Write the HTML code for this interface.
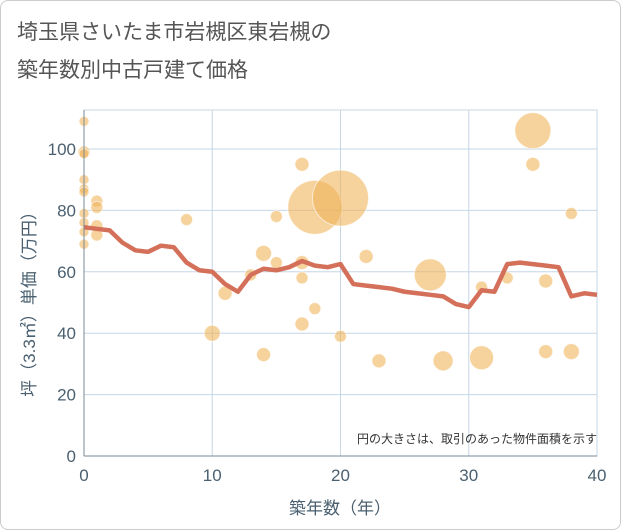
<!DOCTYPE html>
<html><head><meta charset="utf-8"><style>
body{margin:0;background:#fff}
.wrap{width:619px;height:528px;border:1px solid #ccc;border-radius:8px;position:relative;overflow:hidden;font-family:"Liberation Sans","Noto Sans CJK JP",sans-serif}
</style></head><body>
<div class="wrap">
<svg width="621" height="530" id="chart" style="position:absolute;left:-1px;top:-1px">
<text x="17" y="39" font-size="21" fill="#555" font-family="Liberation Sans,Noto Sans CJK JP,sans-serif">埼玉県さいたま市岩槻区東岩槻の</text>
<text x="17" y="77" font-size="21" fill="#555" font-family="Liberation Sans,Noto Sans CJK JP,sans-serif">築年数別中古戸建て価格</text>
<g id="grid"></g><g id="bubbles"></g><g id="line"></g><g id="axes"></g>
<text x="597" y="443" font-size="12" fill="#333" text-anchor="end" font-family="Liberation Sans,Noto Sans CJK JP,sans-serif">円の大きさは、取引のあった物件面積を示す</text>
<text x="340" y="514" font-size="17" fill="#4a6070" text-anchor="middle" font-family="Liberation Sans,Noto Sans CJK JP,sans-serif">築年数（年）</text>
<text transform="translate(35,300) rotate(-90)" font-size="17" fill="#4a6070" text-anchor="middle" font-family="Liberation Sans,Noto Sans CJK JP,sans-serif">坪（3.3㎡）単価（万円）</text>
</svg></div>
<script>
const xTicks=[0,10,20,30,40];
const yTicks=[0,20,40,60,80,100];
const lineYears=[0,1,2,3,4,5,6,7,8,9,10,11,12,13,14,15,16,17,18,19,20,21,22,23,24,25,26,27,28,29,30,31,32,33,34,35,36,37,38,39,40];
const lineValues=[74.5,74,73.5,69.5,67,66.5,68.5,68,63,60.5,60,56,53.5,59,61,60.5,61.5,63.5,62,61.5,62.5,56,55.5,55,54.5,53.5,53,52.5,52,49.5,48.5,54,53.5,62.5,63,62.5,62,61.5,52,53,52.5];
const bubbleX=[0,0,0,0,0,0,0,0,0,0,1,1,1,1,8,10,11,13,14,14,15,15,17,17,17,17,18,18,20,20,22,23,27,28,31,31,33,35,35,36,36,38,38];
const bubbleY=[109,99,98.5,90,87,86,79,76,73,69,83,81,75,72,77,40,53,59,66,33,63,78,95,63,58,43,81,48,84,39,65,31,59,31,32,55,58,106,95,57,34,79,34];
const bubbleSize=[5,6,5,5,5,5,5,5,5,5,6,6,6,6,6,8,7,6,8,7,6,6,7,7,6,7,27,6,28,6,7,7,16,10,12,6,6,18,7,7,7,6,8];
const NS="http://www.w3.org/2000/svg";
const L=84,R=597,T=110,B=456;
const xs=v=>L+(v/40)*(R-L);
const ys=v=>B-(v/112.7)*(B-T);
function mk(t,a,p){const e=document.createElementNS(NS,t);for(const k in a)e.setAttribute(k,a[k]);p.appendChild(e);return e;}
const grid=document.getElementById('grid'),axes=document.getElementById('axes');
mk('rect',{x:L,y:T,width:R-L,height:B-T,fill:'none',stroke:'#c8d4de'},grid);
xTicks.forEach(t=>{
 const g=mk('line',{x1:xs(t),x2:xs(t),y1:T,y2:B,stroke:'#c5d6e6'},grid);
 
 
 const tx=mk('text',{x:xs(t),y:B+25,'font-size':17,fill:'#4a6070','text-anchor':'middle'},axes);
 tx.textContent=t;
 
 
});
yTicks.forEach(t=>{
 const g=mk('line',{x1:L,x2:R,y1:ys(t),y2:ys(t),stroke:'#c5d6e6'},grid);
 
 
 const tx=mk('text',{x:L-8,y:ys(t)+6,'font-size':17,fill:'#4a6070','text-anchor':'end'},axes);
 tx.textContent=t;
 
 
});
const ax=mk('line',{x1:L,x2:L,y1:T,y2:B,stroke:'#7a8a99'},axes);


const ax2=mk('line',{x1:L,x2:R,y1:B,y2:B,stroke:'#7a8a99'},axes);


const bg=document.getElementById('bubbles');
bubbleX.forEach((x,i)=>{
 const c=mk('circle',{cx:xs(x),cy:ys(bubbleY[i]),r:bubbleSize[i],fill:'rgba(240,180,90,0.6)',stroke:'rgba(255,255,255,0.6)','stroke-width':1},bg);
 
 
});
const pl=mk('polyline',{points:lineYears.map((x,i)=>xs(x)+','+ys(lineValues[i])).join(' '),fill:'none',stroke:'#d4705a',"stroke-width":4.5,"stroke-linejoin":"round"},document.getElementById('line'));


</script>
</body></html>
